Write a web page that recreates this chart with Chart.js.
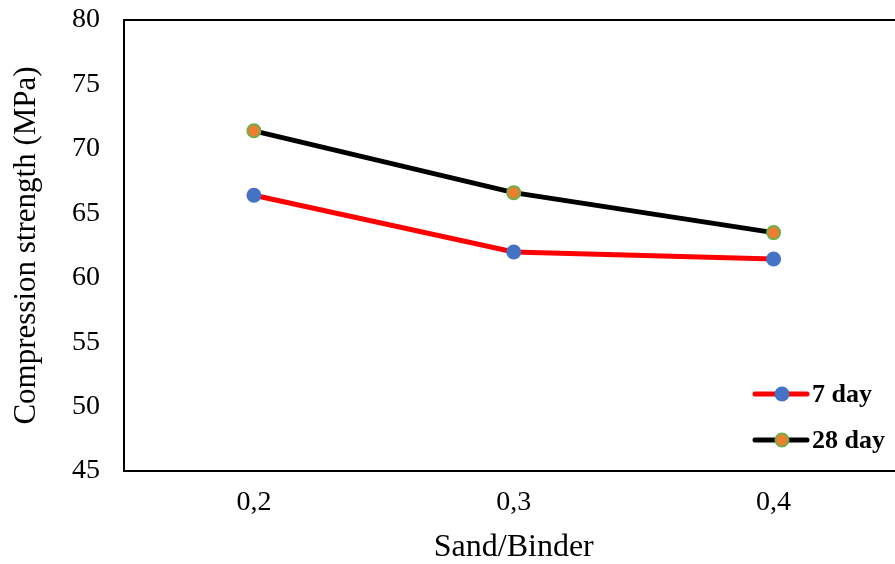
<!DOCTYPE html>
<html>
<head>
<meta charset="utf-8">
<script src="https://cdn.jsdelivr.net/npm/chart.js@4/dist/chart.umd.min.js"></script>
<style>
    html, body { margin: 0; padding: 0; background: #fff; overflow: hidden; }
    #chart { display: block; }
</style>
</head>
<body>
<canvas id="chart" width="912" height="564"></canvas>
<script>
// Data
const categories = ['0,2', '0,3', '0,4'];
const day7 = [66.4, 62.0, 61.45];
const day28 = [71.4, 66.6, 63.5];
const yTicks = [45, 50, 55, 60, 65, 70, 75, 80];

const serif = "'Liberation Serif', 'Times New Roman', serif";

// Frame around plot area (top, left, bottom) + legend inside the plot
const framePlugin = {
    id: 'frame',
    afterDraw(chart) {
        const { ctx, chartArea: a } = chart;
        ctx.save();
        ctx.strokeStyle = '#000';
        ctx.lineWidth = 2;
        ctx.beginPath();
        ctx.moveTo(a.right + 2, a.top);
        ctx.lineTo(a.left, a.top);
        ctx.lineTo(a.left, a.bottom);
        ctx.lineTo(a.right + 2, a.bottom);
        ctx.stroke();

        // legend
        const rows = [{ ds: chart.data.datasets[0], y: 394 }, { ds: chart.data.datasets[1], y: 440 }];
        rows.forEach(r => {
            ctx.strokeStyle = r.ds.borderColor;
            ctx.lineWidth = 5;
            ctx.lineCap = 'round';
            ctx.beginPath();
            ctx.moveTo(755, r.y);
            ctx.lineTo(807, r.y);
            ctx.stroke();
            ctx.beginPath();
            ctx.arc(782, r.y, r.ds.pointRadius, 0, Math.PI * 2);
            ctx.fillStyle = r.ds.pointBackgroundColor;
            ctx.fill();
            if (r.ds.pointBorderWidth > 0) {
                ctx.lineWidth = r.ds.pointBorderWidth;
                ctx.strokeStyle = r.ds.pointBorderColor;
                ctx.stroke();
            }
            ctx.fillStyle = '#000';
            ctx.font = 'bold 26px ' + serif;
            ctx.textBaseline = 'middle';
            ctx.textAlign = 'left';
            ctx.fillText(r.ds.label, 812, r.y + 1);
        });
        ctx.restore();
    }
};

const chart = new Chart(document.getElementById('chart'), {
    type: 'line',
    data: {
        labels: categories,
        datasets: [
            {
                label: '7 day',
                data: day7,
                borderColor: '#FF0000',
                borderWidth: 5,
                pointRadius: 7.5,
                pointBackgroundColor: '#4472C4',
                pointBorderColor: '#4472C4',
                pointBorderWidth: 0,
                tension: 0,
            },
            {
                label: '28 day',
                data: day28,
                borderColor: '#000000',
                borderWidth: 5,
                pointRadius: 6.5,
                pointBackgroundColor: '#ED7D31',
                pointBorderColor: '#70AD47',
                pointBorderWidth: 2,
                tension: 0,
            }
        ]
    },
    options: {
        responsive: false,
        animation: false,
        layout: { padding: { top: 20, right: 0, bottom: 0, left: 0 } },
        plugins: {
            legend: { display: false },
            tooltip: { enabled: false }
        },
        scales: {
            x: {
                type: 'category',
                offset: true,
                grid: { display: false, drawTicks: false },
                border: { display: false },
                ticks: { color: '#000', padding: 15, font: { family: serif, size: 28 } },
                title: {
                    display: true,
                    text: 'Sand/Binder',
                    color: '#000',
                    font: { family: serif, size: 32, lineHeight: 1 },
                    padding: { top: 0, bottom: 0 }
                },
                afterFit(scale) {
                    scale.height = 93;
                    scale.paddingLeft = 0;
                    scale.paddingRight = 0;
                }
            },
            y: {
                min: 45,
                max: 80,
                afterBuildTicks(scale) { scale.ticks = yTicks.map(v => ({ value: v })); },
                grid: { display: false, drawTicks: false },
                border: { display: false },
                ticks: { color: '#000', padding: 24, font: { family: serif, size: 28 } },
                title: {
                    display: true,
                    text: 'Compression strength (MPa)',
                    color: '#000',
                    font: { family: serif, size: 31, lineHeight: 1.2 },
                    padding: { top: 8, bottom: 0 }
                },
                afterFit(scale) {
                    scale.width = 124;
                    scale.paddingTop = 0;
                    scale.paddingBottom = 0;
                }
            }
        }
    },
    plugins: [framePlugin]
});
</script>
</body>
</html>
